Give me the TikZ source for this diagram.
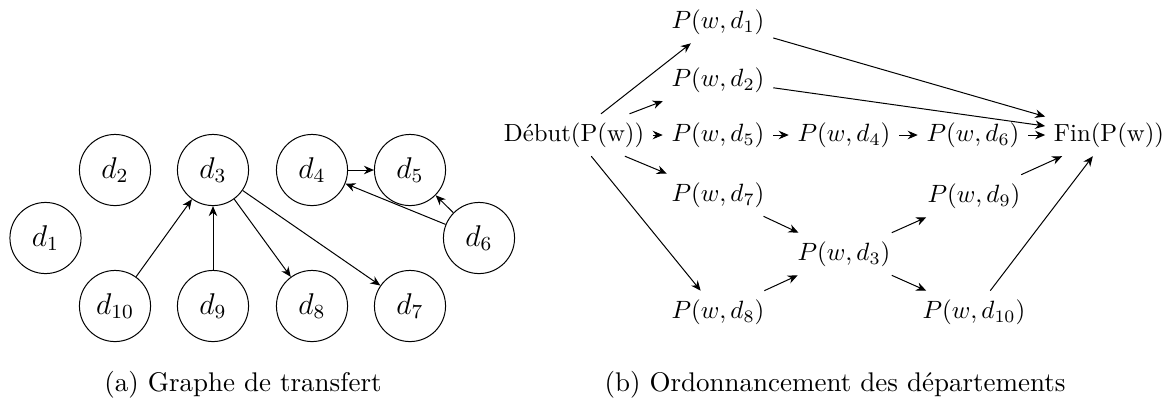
\documentclass[tikz,border=0pt]{standalone}
\usetikzlibrary{arrows.meta}
\begin{document}
\begin{tikzpicture}[x=0.4pt,y=-0.4pt,
  dnode/.style={circle,draw,line width=0.4pt,minimum size=1cm,inner sep=0pt,font=\large},
  pnode/.style={inner sep=3.33pt},
  tnode/.style={inner sep=3.33pt,font=\fontsize{9.9}{12}\selectfont},
  arr/.style={-{Stealth[length=4pt,width=3.4pt]},line width=0.4pt},
  captext/.style={inner sep=0pt,font=\fontsize{10.8}{13}\selectfont}
]
\useasboundingbox (0,0) rectangle (1166,415);
% left graph
\node[dnode] (d1) at (45.5,238) {$d_1$};
\node[dnode] (d2) at (115,170) {$d_2$};
\node[dnode] (d3) at (213,170) {$d_3$};
\node[dnode] (d4) at (312,170) {$d_4$};
\node[dnode] (d5) at (410,170) {$d_5$};
\node[dnode] (d6) at (479,238) {$d_6$};
\node[dnode] (d10) at (115,306) {$d_{10}$};
\node[dnode] (d9) at (213,306) {$d_9$};
\node[dnode] (d8) at (312,306) {$d_8$};
\node[dnode] (d7) at (410,306) {$d_7$};
\draw[arr] (d10) -- (d3);
\draw[arr] (d9) -- (d3);
\draw[arr] (d3) -- (d8);
\draw[arr] (d3) -- (d7);
\draw[arr] (d4) -- (d5);
\draw[arr] (d6) -- (d4);
\draw[arr] (d6) -- (d5);
% right graph
\node[tnode] (deb) at (574,135) {D\'ebut(P(w))};
\node[pnode] (p1) at (718,22) {$P(w,d_1)$};
\node[pnode] (p2) at (718,80) {$P(w,d_2)$};
\node[pnode] (p5) at (718,135) {$P(w,d_5)$};
\node[pnode] (p4) at (844,135) {$P(w,d_4)$};
\node[pnode] (p6) at (973,135) {$P(w,d_6)$};
\node[tnode] (fin) at (1109,135) {Fin(P(w))};
\node[pnode] (p7) at (718,195) {$P(w,d_7)$};
\node[pnode] (p9) at (974,196) {$P(w,d_9)$};
\node[pnode] (p3) at (844,254) {$P(w,d_3)$};
\node[pnode] (p8) at (718,312) {$P(w,d_8)$};
\node[pnode] (p10) at (974,312) {$P(w,d_{10})$};
\draw[arr] (deb) -- (p1);
\draw[arr] (deb) -- (p2);
\draw[arr] (deb) -- (p5);
\draw[arr] (deb) -- (p7);
\draw[arr] (deb) -- (p8);
\draw[arr] (p1) -- (fin);
\draw[arr] (p2) -- (fin);
\draw[arr] (p5) -- (p4);
\draw[arr] (p4) -- (p6);
\draw[arr] (p6) -- (fin);
\draw[arr] (p7) -- (p3);
\draw[arr] (p8) -- (p3);
\draw[arr] (p3) -- (p9);
\draw[arr] (p3) -- (p10);
\draw[arr] (p9) -- (fin);
\draw[arr] (p10) -- (fin);
% captions
\node[captext] (capa) at (243,385) {(a) Graphe de transfert};
\node[captext] (capb) at (835,385) {(b) Ordonnancement des d\'epartements};
\end{tikzpicture}
\end{document}
